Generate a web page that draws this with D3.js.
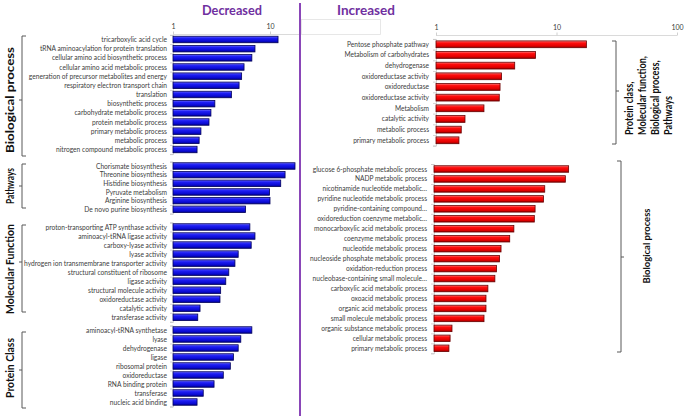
<!DOCTYPE html>
<html><head><meta charset="utf-8">
<script src="https://cdn.jsdelivr.net/npm/d3@7"></script>
<style>body{margin:0;background:#fff}</style>
</head><body><svg id="c" width="685" height="416"></svg>
<script>
// ---------- DATA ----------
const bioLabels = ["tricarboxylic acid cycle","tRNA aminoacylation for protein translation","cellular amino acid biosynthetic process","cellular amino acid metabolic process","generation of precursor metabolites and energy","respiratory electron transport chain","translation","biosynthetic process","carbohydrate metabolic process","protein metabolic process","primary metabolic process","metabolic process","nitrogen compound metabolic process"];
const bioValues = [12.1, 7.0, 6.5, 5.4, 5.1, 4.8, 4.0, 2.7, 2.46, 2.35, 1.94, 1.86, 1.77];

const pathLabels = ["Chorismate biosynthesis","Threonine biosynthesis","Histidine biosynthesis","Pyruvate metabolism","Arginine biosynthesis","De novo purine biosynthesis"];
const pathValues = [18.1, 14.3, 12.9, 9.9, 10.0, 5.6];

const mfLabels = ["proton-transporting ATP synthase activity","aminoacyl-tRNA ligase activity","carboxy-lyase activity","lyase activity","hydrogen ion transmembrane transporter activity","structural constituent of ribosome","ligase activity","structural molecule activity","oxidoreductase activity","catalytic activity","transferase activity"];
const mfValues = [6.2, 7.0, 6.4, 4.7, 4.35, 3.76, 3.5, 3.1, 3.05, 1.9, 1.8];

const pcLabels = ["aminoacyl-tRNA synthetase","lyase","dehydrogenase","ligase","ribosomal protein","oxidoreductase","RNA binding protein","transferase","nucleic acid binding"];
const pcValues = [6.5, 5.0, 4.7, 4.2, 3.9, 3.3, 2.65, 2.05, 1.77];

const incTopLabels = ["Pentose phosphate pathway","Metabolism of carbohydrates","dehydrogenase","oxidoreductase activity","oxidoreductase","oxidoreductase activity","Metabolism","catalytic activity","metabolic process","primary metabolic process"];
const incTopValues = [17.7, 6.7, 4.5, 3.5, 3.4, 3.35, 2.5, 1.74, 1.62, 1.55];

const incBioLabels = ["glucose 6-phosphate metabolic process","NADP metabolic process","nicotinamide nucleotide metabolic…","pyridine nucleotide metabolic process","pyridine-containing compound…","oxidoreduction coenzyme metabolic…","monocarboxylic acid metabolic process","coenzyme metabolic process","nucleotide metabolic process","nucleoside phosphate metabolic process","oxidation-reduction process","nucleobase-containing small molecule…","carboxylic acid metabolic process","oxoacid metabolic process","organic acid metabolic process","small molecule metabolic process","organic substance metabolic process","cellular metabolic process","primary metabolic process"];
const incBioValues = [13.1, 12.3, 8.3, 8.1, 6.9, 6.8, 4.6, 4.25, 3.6, 3.5, 3.3, 3.2, 2.8, 2.7, 2.7, 2.6, 1.41, 1.36, 1.33];

const leftTicks = [1, 10];
const rightTicks = [1, 10, 100];
const panelTitles = ["Decreased", "Increased"];
const leftGroupNames = ["Biological process", "Pathways", "Molecular Function", "Protein Class"];
const rightTopGroupLines = ["Protein class,", "Molecular function,", "Biological process,", "Pathways"];
const rightBioGroupName = "Biological process";

// ---------- DRAW ----------
const svg = d3.select("#c");
const FONT = "Lato, 'Open Sans', 'Liberation Sans', sans-serif";
const PURPLE = "#7030A0";

function measure(text, size, weight) {
  const t = svg.append("text").attr("font-family", FONT).attr("font-size", size)
    .attr("font-weight", weight).text(text);
  const w = t.node().getComputedTextLength(); t.remove(); return w;
}

const defs = svg.append("defs");
function grad(id, stops) {
  const g = defs.append("linearGradient").attr("id", id).attr("x1", 0).attr("y1", 0).attr("x2", 0).attr("y2", 1);
  stops.forEach(s => g.append("stop").attr("offset", s[0]).attr("stop-color", s[1]));
}
grad("gBlue", [["0%", "#6a6aff"], ["30%", "#1e1ef5"], ["75%", "#0a0ad0"], ["100%", "#00008a"]]);
grad("gRed", [["0%", "#ff7a7a"], ["30%", "#ff0d0d"], ["75%", "#e00000"], ["100%", "#8a0000"]]);

const labelSize = 7.2;
const kLeft = 111 / measure("nitrogen compound metabolic process", labelSize, 400);
const kRight = 113 / measure("monocarboxylic acid metabolic process", labelSize, 400);

const xLeft = d3.scaleLog().domain([1, 10]).range([173, 270]);
const xRightTop = d3.scaleLog().domain([1, 100]).range([436, 677]);
const xRightBio = d3.scaleLog().domain([1, 100]).range([434, 675]);

function drawGroup(cfg) {
  const n = cfg.labels.length;
  const y = d3.scalePoint().domain(d3.range(n)).range([cfg.y0, cfg.y1]);
  const step = (cfg.y1 - cfg.y0) / (n - 1);
  const g = svg.append("g");
  const x0 = cfg.x(1);
  // category axis with boundary ticks
  const yb = d3.scaleLinear().domain([0, n]).range([cfg.y0 - step / 2, cfg.y1 + step / 2]);
  const ax = g.append("g").attr("transform", `translate(${x0},0)`)
    .call(d3.axisLeft(yb).tickValues(d3.range(n + 1)).tickFormat("").tickSize(3).tickSizeOuter(3));
  ax.selectAll("path,line").attr("stroke", "#c8c8c8").attr("stroke-width", 0.8);
  // bars
  g.selectAll("rect.bar").data(cfg.values).join("rect").attr("class", "bar")
    .attr("x", x0)
    .attr("y", (d, i) => y(i) - cfg.barH / 2)
    .attr("width", d => cfg.x(d) - x0)
    .attr("height", cfg.barH)
    .attr("fill", cfg.fill).attr("stroke", cfg.stroke).attr("stroke-width", 0.8);
  // labels
  g.selectAll("text.lab").data(cfg.labels).join("text").attr("class", "lab")
    .attr("transform", (d, i) => `translate(${cfg.labelX},${y(i)}) scale(${cfg.k},1)`)
    .attr("dy", "0.35em").attr("text-anchor", "end")
    .attr("font-family", FONT).attr("font-size", labelSize).attr("fill", "#404040")
    .text(d => d);
}

const blue = { x: xLeft, fill: "url(#gBlue)", stroke: "#00005a", barH: 6.5, labelX: 167, k: kLeft };
drawGroup({ ...blue, labels: bioLabels, values: bioValues, y0: 39.5, y1: 149.5 });
drawGroup({ ...blue, labels: pathLabels, values: pathValues, y0: 166, y1: 209.3 });
drawGroup({ ...blue, labels: mfLabels, values: mfValues, y0: 227, y1: 317.3 });
drawGroup({ ...blue, labels: pcLabels, values: pcValues, y0: 330, y1: 402 });

drawGroup({ x: xRightTop, fill: "url(#gRed)", stroke: "#6a0000", barH: 6.8, labelX: 429, k: kRight,
  labels: incTopLabels, values: incTopValues, y0: 44.3, y1: 140.3 });
drawGroup({ x: xRightBio, fill: "url(#gRed)", stroke: "#6a0000", barH: 6.5, labelX: 427, k: kRight,
  labels: incBioLabels, values: incBioValues, y0: 169, y1: 348.3 });

// top value axes
function topAxis(x, ticks, yPos, xEnd) {
  const g = svg.append("g").attr("transform", `translate(0,${yPos})`);
  g.append("line").attr("x1", x.range()[0]).attr("x2", xEnd).attr("stroke", "#d0d0d0").attr("stroke-width", 0.8);
  const a = g.append("g").call(d3.axisTop(x).tickValues(ticks).tickFormat(d3.format("d")).tickSize(3).tickPadding(3));
  a.select(".domain").remove();
  a.selectAll("line").attr("stroke", "#d0d0d0");
  a.selectAll("text").attr("font-family", FONT).attr("font-size", 7).attr("fill", "#404040");
}
topAxis(xLeft, leftTicks, 34.5, 299);
topAxis(xRightTop, rightTicks, 35.5, 677);

// faint empty box
svg.append("rect").attr("x", 301.5).attr("y", 19.5).attr("width", 79).attr("height", 15)
  .attr("fill", "none").attr("stroke", "#e2e2e2").attr("stroke-width", 0.8);

// divider
svg.append("line").attr("x1", 300).attr("x2", 300).attr("y1", 3).attr("y2", 416)
  .attr("stroke", "#8a46b8").attr("stroke-width", 2);

// titles
[[panelTitles[0], 232, 60], [panelTitles[1], 366, 58]].forEach(([t, cx, w]) => {
  const k = w / measure(t, 14, 700);
  svg.append("text").attr("transform", `translate(${cx},15) scale(${k},1)`)
    .attr("text-anchor", "middle").attr("font-family", FONT).attr("font-size", 14)
    .attr("font-weight", 700).attr("fill", PURPLE).text(t);
});

// brackets
function bracket(x, top, bottom, mid, dir) {
  const p = d3.path();
  p.moveTo(x + 4 * dir, top); p.lineTo(x, top); p.lineTo(x, bottom); p.lineTo(x + 4 * dir, bottom);
  p.moveTo(x, mid); p.lineTo(x - 3 * dir, mid);
  svg.append("path").attr("d", p.toString()).attr("fill", "none").attr("stroke", "#595959").attr("stroke-width", 1);
}
bracket(22, 36, 156, 100, 1);
bracket(22, 164, 208, 186, 1);
bracket(22, 225, 312, 262, 1);
bracket(22, 332, 408, 370, 1);
bracket(616, 41, 144, 91, -1);
bracket(621, 161, 352, 257, -1);

// group names (rotated)
function vText(t, x, y, size, target, anchor) {
  const k = target / measure(t, size, 700);
  svg.append("text").attr("transform", `translate(${x},${y}) rotate(-90) scale(${k},1)`)
    .attr("text-anchor", anchor).attr("dy", "0.35em")
    .attr("font-family", FONT).attr("font-size", size).attr("font-weight", 700).attr("fill", "#111")
    .text(t);
}
vText(leftGroupNames[0], 10, 100, 10.5, 106, "middle");
vText(leftGroupNames[1], 10, 186, 10.5, 36, "middle");
vText(leftGroupNames[2], 10, 269, 10.5, 90, "middle");
vText(leftGroupNames[3], 10, 368, 10.5, 60, "middle");

const kTop = 79 / measure(rightTopGroupLines[1], 10.5, 700);
rightTopGroupLines.forEach((t, i) => {
  svg.append("text").attr("transform", `translate(${629 + i * 13},135) rotate(-90) scale(${kTop},1)`)
    .attr("text-anchor", "start").attr("dy", "0.35em")
    .attr("font-family", FONT).attr("font-size", 10.5).attr("font-weight", 700).attr("fill", "#111")
    .text(t);
});
vText(rightBioGroupName, 647, 246, 9.5, 75, "middle");
</script>
</body></html>
